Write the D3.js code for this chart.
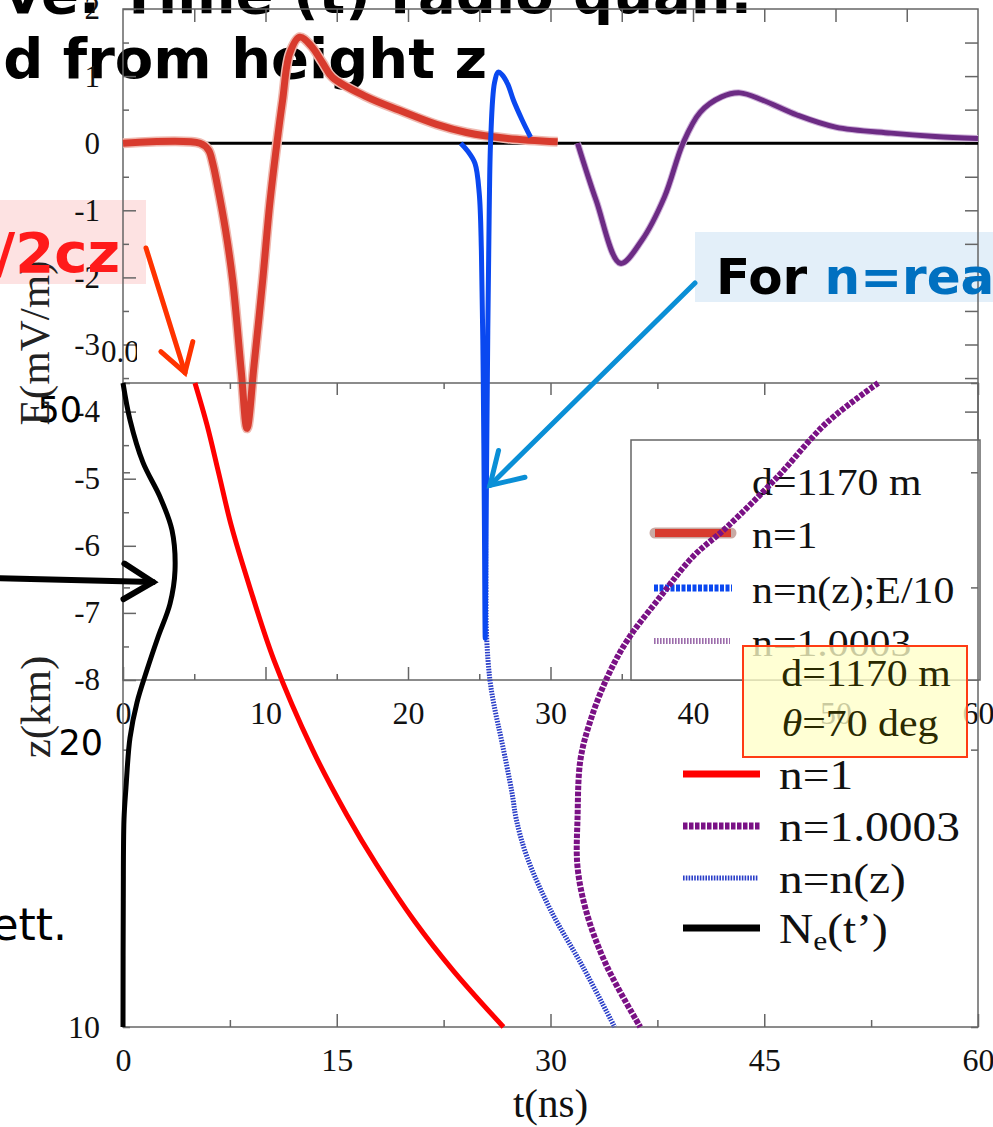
<!DOCTYPE html>
<html>
<head>
<meta charset="utf-8">
<script src="https://cdn.jsdelivr.net/npm/d3@7"></script>
<style>
  body { margin: 0; background: #fff; }
  svg { display: block; }
</style>
</head>
<body>
<svg id="chart" width="993" height="1127"></svg>
<script>

// ---- data ----
// upper panel: field E (mV/m) vs time t (ns)
var fieldN1 = [[0,0],[5.4,0],[6.0,-0.1],[6.3,-0.3],[6.6,-0.6],[7.2,-1.3],[7.7,-2.05],[8.3,-3.4],[8.7,-4.25],
    [9.2,-3.3],[9.8,-2.05],[10.3,-0.9],[10.8,0],[11.2,0.64],[11.7,1.34],[12.4,1.58],[13.2,1.45],[14.0,1.2],
    [14.7,0.98],[17.1,0.69],[19.4,0.49],[22.0,0.28],[24.1,0.16],[27.0,0.07],[30.5,0.02]];
var fieldNz = [[23.7,0],[24.2,-0.12],[24.7,-0.3],[25.0,-0.75],[25.15,-1.6],[25.28,-3.5],[25.36,-5.6],[25.42,-7.38],
    [25.5,-5.2],[25.6,-2.8],[25.7,-1.0],[25.8,0.04],[26.07,0.9],[26.34,1.06],[26.6,1.02],[27.0,0.88],
    [27.4,0.64],[28.0,0.35],[28.6,0.09]];
var fieldN10003 = [[31.9,0],[33.2,-0.85],[34.9,-1.79],[36.4,-1.45],[38.0,-0.8],[39.3,0],[40.5,0.46],[42.0,0.69],
    [43.3,0.75],[44.9,0.64],[47.3,0.42],[50.0,0.24],[53.9,0.15],[57.0,0.1],[60,0.07]];

// lower panel: arrival time t (ns) vs emission height z (km)
var arrivalN1 = [[5.05,50],[5.9,45],[6.7,40],[7.6,35],[8.9,30],[10.6,25],[13.3,20],[15.7,17],[17.8,15],
    [20.5,13],[23.2,11.5],[26.7,10]];
var arrivalN10003 = [[53.0,50],[49.4,45.3],[45.9,39.5],[42.4,34.9],[40.0,32.4],[37.7,29.3],[35.4,26.3],
    [34.0,24.0],[32.8,21.5],[32.1,19.5],[31.9,16.9],[31.9,14.9],[32.6,13.2],[34.0,11.6],[36.3,10]];
var arrivalNz = [[25.4,50],[25.42,40],[25.47,30],[25.52,26.45],[25.75,23.8],[26.1,22.1],[26.6,20.35],
    [27.3,17.95],[27.6,16.8],[28.35,15.3],[30.0,13.4],[32.3,11.6],[34.5,10]];
var electronProfile = [[0,50],[0.49,45.6],[1.4,41],[2.6,37.6],[3.44,34.6],[3.65,31.3],[3.3,28.8],[2.46,26.5],
    [1.68,24.4],[0.98,22.5],[0.49,20.6],[0.21,18.2],[0.07,16.8],[0.02,13.7],[0,10]];

// ticks
var topTicksT = [0,10,20,30,40,50,60];
var topTicksE = [2,1,0,-1,-2,-3,-4,-5,-6,-7,-8];
var botTicksT = [0,15,30,45,60];
var botTicksZ = [10,20,30,40,50];
var botLabelsZ = [10,20,50];

// legend texts
var topLegendTitle = "d=1170 m";
var topLegendLabels = ["n=1", "n=n(z);E/10", "n=1.0003"];
var botLegendLabels = ["n=1", "n=1.0003", "n=n(z)", "Ne(t\u2019)"];
var infoLines = ["d=1170 m", "\u03b8=70 deg"];

// ---- setup ----
var svg = d3.select("#chart");
var serif = "'Liberation Serif', 'DejaVu Serif', serif";
var sans = "'DejaVu Sans', 'Noto Sans', sans-serif";
var axisCol = "#666";

var x = d3.scaleLinear().domain([0, 60]).range([123, 978]);
var yE = d3.scaleLinear().domain([-8, 2]).range([680, 9]);
var yZ = d3.scaleLog().domain([10, 50]).range([1027, 383]);

function stretched(parent, px, py, size, sx, family) {
    return parent.append("text")
        .attr("transform", "translate(" + px + "," + py + ") scale(" + sx + ",1)")
        .style("font-family", family)
        .style("font-size", size + "px");
}

function arrow(parent, x1, y1, x2, y2, col, w, head) {
    var a = Math.atan2(y2 - y1, x2 - x1);
    var g = parent.append("g").attr("stroke", col).attr("stroke-width", w)
        .attr("stroke-linecap", "round").attr("fill", "none");
    g.append("line").attr("x1", x1).attr("y1", y1).attr("x2", x2).attr("y2", y2);
    g.append("path").attr("d", "M" + (x2 - head * Math.cos(a - 0.55)) + "," + (y2 - head * Math.sin(a - 0.55)) +
        "L" + x2 + "," + y2 +
        "L" + (x2 - head * Math.cos(a + 0.55)) + "," + (y2 - head * Math.sin(a + 0.55)))
        .attr("stroke-linejoin", "miter");
}

function styleAxis(g) {
    g.select(".domain").remove();
    g.selectAll(".tick line").attr("stroke", axisCol).attr("stroke-width", 1.5);
    g.selectAll("text").style("font-family", serif).attr("fill", "#111");
}

// ---- title text (cut off at top) ----
svg.append("text").attr("x", 752).attr("y", 13).attr("text-anchor", "end")
    .style("font-family", sans).style("font-weight", "bold").style("font-size", "56px")
    .text("ve. Time (t) radio quan.");
svg.append("text").attr("x", 487).attr("y", 78).attr("text-anchor", "end")
    .style("font-family", sans).style("font-weight", "bold").style("font-size", "56px")
    .text("d from height z");

// annotation backgrounds
svg.append("rect").attr("x", 0).attr("y", 200).attr("width", 146).attr("height", 84)
    .attr("fill", "#fde2e2");
svg.append("rect").attr("x", 695).attr("y", 232).attr("width", 300).attr("height", 70)
    .attr("fill", "#e3eff9");

// ---- upper panel ----
var upper = svg.append("g").attr("class", "toppanel");

upper.append("rect").attr("x", x(0)).attr("y", yE(2)).attr("width", x(60) - x(0)).attr("height", yE(-8) - yE(2))
    .attr("fill", "none").attr("stroke", axisCol).attr("stroke-width", 1.5);

var tb = upper.append("g").attr("transform", "translate(0," + yE(-8) + ")")
    .call(d3.axisBottom(x).tickValues(topTicksT).tickSizeInner(-13).tickSizeOuter(0).tickPadding(21));
styleAxis(tb);
tb.selectAll("text").style("font-size", "32px");
var tbm = upper.append("g").attr("transform", "translate(0," + yE(-8) + ")")
    .call(d3.axisBottom(x).tickValues(d3.range(5, 60, 10)).tickSizeInner(-6).tickSizeOuter(0).tickFormat(""));
styleAxis(tbm);
var tt = upper.append("g").attr("transform", "translate(0," + yE(2) + ")")
    .call(d3.axisTop(x).tickValues(d3.range(5, 60, 5)).tickSizeInner(-13).tickSizeOuter(0).tickFormat(""));
styleAxis(tt);

var tl = upper.append("g").attr("transform", "translate(" + x(0) + ",0)")
    .call(d3.axisLeft(yE).tickValues(topTicksE).tickSizeInner(-13).tickSizeOuter(0).tickPadding(23)
        .tickFormat(function (d) { return d; }));
styleAxis(tl);
tl.selectAll("text").style("font-size", "31px");
var tlm = upper.append("g").attr("transform", "translate(" + x(0) + ",0)")
    .call(d3.axisLeft(yE).tickValues(d3.range(-7.5, 2, 1)).tickSizeInner(-6).tickSizeOuter(0).tickFormat(""));
styleAxis(tlm);
var tr = upper.append("g").attr("transform", "translate(" + x(60) + ",0)")
    .call(d3.axisRight(yE).tickValues(d3.range(-4.5, 2, 0.5)).tickSizeInner(-13).tickSizeOuter(0).tickFormat(""));
styleAxis(tr);

// stray partial label next to -3
svg.append("clipPath").attr("id", "cut").append("rect").attr("x", 99).attr("y", 320).attr("width", 38).attr("height", 60);
upper.append("text").attr("x", 101).attr("y", yE(-3) + 17).attr("clip-path", "url(#cut)")
    .style("font-family", serif).style("font-size", "31px").attr("fill", "#111").text("0.0");

upper.append("line").attr("x1", x(0)).attr("x2", x(60)).attr("y1", yE(0)).attr("y2", yE(0))
    .attr("stroke", "#000").attr("stroke-width", 3);

var lineE = d3.line().x(function (d) { return x(d[0]); }).y(function (d) { return yE(d[1]); })
    .curve(d3.curveCatmullRom.alpha(0.5));

upper.append("path").datum(fieldN1).attr("d", lineE)
    .attr("fill", "none").attr("stroke", "#efb9b0").attr("stroke-width", 10).attr("stroke-linejoin", "round");
upper.append("path").datum(fieldN1).attr("d", lineE)
    .attr("fill", "none").attr("stroke", "#d83b2e").attr("stroke-width", 7).attr("stroke-linejoin", "round");
upper.append("path").datum(fieldN10003).attr("d", lineE)
    .attr("fill", "none").attr("stroke", "#cfb2da").attr("stroke-width", 7).attr("stroke-linejoin", "round");
upper.append("path").datum(fieldN10003).attr("d", lineE)
    .attr("fill", "none").attr("stroke", "#6c2b84").attr("stroke-width", 5).attr("stroke-linejoin", "round");

// upper legend
var lg = svg.append("g").attr("class", "toplegend");
lg.append("rect").attr("x", 631).attr("y", 440).attr("width", 349).attr("height", 240)
    .attr("fill", "#fff").attr("stroke", axisCol).attr("stroke-width", 1.5);
stretched(lg, 752, 495, 38, 1.1, serif).attr("fill", "#111").text(topLegendTitle);
var topRowY = [533, 588, 641];
topLegendLabels.forEach(function (lab, i) {
    stretched(lg, 752, topRowY[i] + 15, 38, 1.1, serif).attr("fill", "#111").text(lab);
});
lg.append("line").attr("x1", 655).attr("x2", 731).attr("y1", topRowY[0]).attr("y2", topRowY[0])
    .attr("stroke", "#c9aaa4").attr("stroke-width", 11).attr("stroke-linecap", "round");
lg.append("line").attr("x1", 655).attr("x2", 731).attr("y1", topRowY[0]).attr("y2", topRowY[0])
    .attr("stroke", "#d83b2e").attr("stroke-width", 8);
lg.append("line").attr("x1", 654).attr("x2", 732).attr("y1", topRowY[1]).attr("y2", topRowY[1])
    .attr("stroke", "#0a48f0").attr("stroke-width", 7).attr("stroke-dasharray", "4,1.5");
lg.append("line").attr("x1", 654).attr("x2", 730).attr("y1", topRowY[2]).attr("y2", topRowY[2])
    .attr("stroke", "#9c6cab").attr("stroke-width", 6).attr("stroke-dasharray", "1.6,1.4");

// ---- lower panel ----
var lower = svg.append("g").attr("class", "botpanel");
lower.append("rect").attr("x", x(0)).attr("y", yZ(50)).attr("width", x(60) - x(0)).attr("height", yZ(10) - yZ(50))
    .attr("fill", "none").attr("stroke", axisCol).attr("stroke-width", 1.5);

var bb = lower.append("g").attr("transform", "translate(0," + yZ(10) + ")")
    .call(d3.axisBottom(x).tickValues(botTicksT).tickSizeInner(-13).tickSizeOuter(0).tickPadding(21));
styleAxis(bb);
bb.selectAll("text").style("font-size", "32px");
var bbm = lower.append("g").attr("transform", "translate(0," + yZ(10) + ")")
    .call(d3.axisBottom(x).tickValues(d3.range(7.5, 60, 15)).tickSizeInner(-7).tickSizeOuter(0).tickFormat(""));
styleAxis(bbm);
var bt = lower.append("g").attr("transform", "translate(0," + yZ(50) + ")")
    .call(d3.axisTop(x).tickValues(botTicksT).tickSizeInner(-12).tickSizeOuter(0).tickFormat(""));
styleAxis(bt);
var btm = lower.append("g").attr("transform", "translate(0," + yZ(50) + ")")
    .call(d3.axisTop(x).tickValues(d3.range(7.5, 60, 15)).tickSizeInner(-6).tickSizeOuter(0).tickFormat(""));
styleAxis(btm);

var bl = lower.append("g").attr("transform", "translate(" + x(0) + ",0)")
    .call(d3.axisLeft(yZ).tickValues(botTicksZ).tickSizeInner(-7).tickSizeOuter(0).tickPadding(23)
        .tickFormat(function (d) { return botLabelsZ.indexOf(d) >= 0 ? d : ""; }));
styleAxis(bl);
bl.selectAll("text").style("font-size", "32px");
bl.selectAll(".tick").filter(function (d) { return d !== 10; }).select("text")
    .style("font-family", sans).style("font-size", "35px").attr("fill", "#000");
bl.selectAll(".tick").filter(function (d) { return d === 20; }).select("text").attr("x", -20).attr("dy", "0.15em");
bl.selectAll(".tick").filter(function (d) { return d === 50; }).select("text").attr("x", -41).attr("dy", "1.1em");
var br = lower.append("g").attr("transform", "translate(" + x(60) + ",0)")
    .call(d3.axisRight(yZ).tickValues(botTicksZ).tickSizeInner(-7).tickSizeOuter(0).tickFormat(""));
styleAxis(br);

var lineZ = d3.line().x(function (d) { return x(d[0]); }).y(function (d) { return yZ(d[1]); })
    .curve(d3.curveCatmullRom.alpha(0.5));

lower.append("path").datum(electronProfile).attr("d", lineZ)
    .attr("fill", "none").attr("stroke", "#000").attr("stroke-width", 5);
lower.append("path").datum(arrivalN1).attr("d", lineZ)
    .attr("fill", "none").attr("stroke", "#ff0000").attr("stroke-width", 5);
lower.append("path").datum(arrivalNz).attr("d", lineZ)
    .attr("fill", "none").attr("stroke", "#2a3ec8").attr("stroke-width", 5).attr("stroke-dasharray", "1.6,1.2");
lower.append("path").datum(arrivalN10003).attr("d", lineZ)
    .attr("fill", "none").attr("stroke", "#7a1185").attr("stroke-width", 6).attr("stroke-dasharray", "4.5,1.5");

// upper blue pulse drawn last so it sits over the lower blue trace
svg.append("path").datum(fieldNz).attr("d", lineE)
    .attr("fill", "none").attr("stroke", "#0a48f0").attr("stroke-width", 5).attr("stroke-linejoin", "round");

// info box (semi transparent)
var info = svg.append("g").attr("class", "info");
info.append("rect").attr("x", 743).attr("y", 646).attr("width", 224).attr("height", 111)
    .attr("fill", "#ffffc8").attr("fill-opacity", 0.78).attr("stroke", "#ff3c14").attr("stroke-width", 2);
stretched(info, 866, 686, 38, 1.1, serif).attr("text-anchor", "middle").attr("fill", "#2a2a00").text(infoLines[0]);
var th = stretched(info, 860, 736, 38, 1.1, serif).attr("text-anchor", "middle").attr("fill", "#2a2a00");
th.append("tspan").style("font-style", "italic").text(infoLines[1].slice(0, 1));
th.append("tspan").text(infoLines[1].slice(1));

// lower legend
var lg2 = svg.append("g").attr("class", "botlegend");
var botRowY = [774, 826, 878, 928];
lg2.append("line").attr("x1", 683).attr("x2", 760).attr("y1", botRowY[0]).attr("y2", botRowY[0])
    .attr("stroke", "#ff0000").attr("stroke-width", 7);
lg2.append("line").attr("x1", 683).attr("x2", 760).attr("y1", botRowY[1]).attr("y2", botRowY[1])
    .attr("stroke", "#7a1185").attr("stroke-width", 7).attr("stroke-dasharray", "4.5,1.5");
lg2.append("line").attr("x1", 683).attr("x2", 758).attr("y1", botRowY[2]).attr("y2", botRowY[2])
    .attr("stroke", "#2a3ec8").attr("stroke-width", 5).attr("stroke-dasharray", "1.6,1.2");
lg2.append("line").attr("x1", 683).attr("x2", 760).attr("y1", botRowY[3]).attr("y2", botRowY[3])
    .attr("stroke", "#000").attr("stroke-width", 7);
botLegendLabels.forEach(function (lab, i) {
    var t = stretched(lg2, 779, botRowY[i] + 15, 42, 1.13, serif).attr("fill", "#111");
    if (i === 3) {
        t.append("tspan").text("N");
        t.append("tspan").attr("baseline-shift", "-25%").style("font-size", "28px").text("e");
        t.append("tspan").text("(t\u2019)");
    } else {
        t.text(lab);
    }
});

// axis titles
svg.append("text").attr("transform", "translate(49,343) rotate(-90)").attr("text-anchor", "middle")
    .style("font-family", serif).style("font-size", "43px").attr("fill", "#222").text("E(mV/m)");
svg.append("text").attr("transform", "translate(50,707) rotate(-90)").attr("text-anchor", "middle")
    .style("font-family", serif).style("font-size", "43px").attr("fill", "#222").text("z(km)");
svg.append("text").attr("x", x(30)).attr("y", 1117).attr("text-anchor", "middle")
    .style("font-family", serif).style("font-size", "41px").attr("fill", "#111").text("t(ns)");

// ---- slide annotations ----
svg.append("text").attr("x", 120).attr("y", 272).attr("text-anchor", "end")
    .style("font-family", sans).style("font-weight", "bold").style("font-size", "56px")
    .attr("fill", "#ff1a1a").text("/2cz");
arrow(svg, 146, 248, x(4.35), yE(-3.42), "#ff3300", 5, 32);

var ft = svg.append("text").attr("x", 716).attr("y", 294)
    .style("font-family", sans).style("font-weight", "bold").style("font-size", "50px");
ft.append("tspan").attr("fill", "#000").text("For ");
ft.append("tspan").attr("fill", "#0070c0").text("n=real");
arrow(svg, 695, 283, x(25.75), yE(-5.1), "#0a8fd6", 5, 36);

arrow(svg, -10, 578, x(2.1), yZ(30.4), "#000", 6, 34);

svg.append("text").attr("x", 67).attr("y", 940).attr("text-anchor", "end")
    .style("font-family", sans).style("font-size", "44px").attr("fill", "#000").text("ett.");

</script>
</body>
</html>
